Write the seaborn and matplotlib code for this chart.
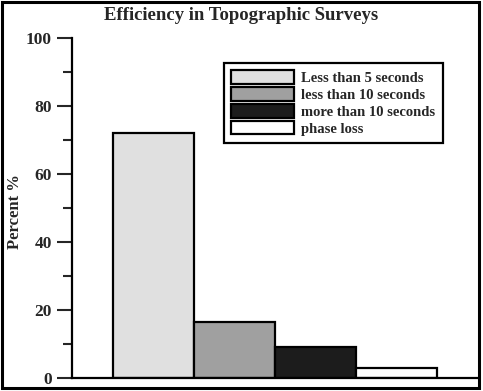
"""
Efficiency in Topographic Surveys — bar chart recreation (seaborn).
"""

import matplotlib
matplotlib.use("Agg")
import matplotlib.pyplot as plt
from matplotlib.patches import Patch, Rectangle
from matplotlib.ticker import MultipleLocator
import seaborn as sns

# --- data -------------------------------------------------------------------
categories = ["Less than 5 seconds", "less than 10 seconds",
              "more than 10 seconds", "phase loss"]
percent = [72.0, 16.5, 9.0, 3.0]
bar_colors = ["#e0e0e0", "#a0a0a0", "#1c1c1c", "#ffffff"]

TITLE = "Efficiency in Topographic Surveys"
YLABEL = "Percent %"

sns.set_style("white")
plt.rcParams["font.family"] = ["Liberation Serif", "DejaVu Serif"]
plt.rcParams["font.weight"] = "bold"

W, H = 483, 391
fig = plt.figure(figsize=(W / 100, H / 100), dpi=100)
ax = fig.add_axes([72 / W, 1 - 378 / H, 406 / W, 340 / H])

sns.barplot(x=categories, y=percent, hue=categories, palette=bar_colors,
            width=1.0, dodge=False, edgecolor="black", linewidth=1.6,
            legend=False, ax=ax)

ax.set_xlim(-1, 4)
ax.set_ylim(0, 100)
ax.set_xticks([])
ax.set_xlabel("")
ax.yaxis.set_major_locator(MultipleLocator(20))
ax.yaxis.set_minor_locator(MultipleLocator(10))
ax.tick_params(axis="y", which="major", direction="out", length=11, width=1.5,
               pad=3.5, labelsize=12.5, left=True)
ax.tick_params(axis="y", which="minor", direction="out", length=6.5, width=1.5,
               left=True)
for lab in ax.get_yticklabels():
    lab.set_fontweight("bold")

for side in ["top", "right"]:
    ax.spines[side].set_visible(False)
for side in ["left", "bottom"]:
    ax.spines[side].set_linewidth(1.6)
    ax.spines[side].set_color("black")

ax.set_ylabel(YLABEL, fontsize=12, fontweight="bold")
ax.yaxis.set_label_coords((23 - 72) / 406, 0.49)

handles = [Patch(facecolor=c, edgecolor="black", linewidth=1.6) for c in bar_colors]
leg = ax.legend(handles, categories, loc="upper left",
                bbox_to_anchor=(0.374, 0.926), borderaxespad=0,
                prop={"size": 10.5, "weight": "bold"},
                handlelength=4.3, handleheight=1.05, handletextpad=0.5,
                labelspacing=0.14, borderpad=0.5, fancybox=False,
                framealpha=1)
leg.get_frame().set_edgecolor("black")
leg.get_frame().set_linewidth(1.6)

fig.text(0.5, 1 - 15 / H, TITLE, ha="center", va="center",
         fontsize=13.5, fontweight="bold")

# outer frame around the whole picture
fig.patches.append(Rectangle((1.5 / W, 3 / H), 477.5 / W, 386.5 / H,
                             transform=fig.transFigure, fill=False,
                             edgecolor="black", linewidth=2.2))

fig.savefig("out.png", dpi=100)
plt.close(fig)
